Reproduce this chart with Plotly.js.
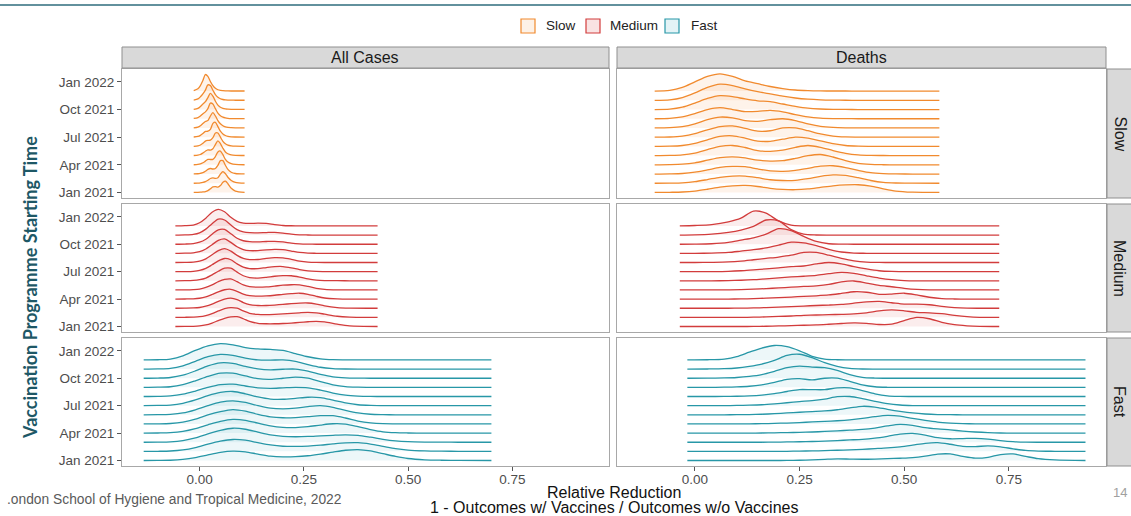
<!DOCTYPE html>
<html><head><meta charset="utf-8">
<script src="https://cdn.plot.ly/plotly-3.0.1.min.js"></script>
<style>html,body{margin:0;padding:0;background:#fff;}#chart{width:1131px;height:516px;}</style>
</head><body><div id="chart"></div>
<script>
// ---------- categories & tick labels ----------
const months = ['Jan 2021','Feb 2021','Mar 2021','Apr 2021','May 2021','Jun 2021','Jul 2021','Aug 2021','Sep 2021','Oct 2021','Nov 2021','Dec 2021'];
const yTickPos = [0, 3, 6, 9, 12];
const yTickText = ['Jan 2021','Apr 2021','Jul 2021','Oct 2021','Jan 2022'];
const xTickVals = [0, 0.25, 0.5, 0.75];
const xTickText = ['0.00','0.25','0.50','0.75'];
const speeds = ['Slow','Medium','Fast'];
const outcomes = ['All Cases','Deaths'];

// ---------- ridge data: x grid per panel, heights (in month-spacing units) per start month Jan..Dec ----------
const slowCasesX = [-0.014,-0.004,0.002,0.008,0.014,0.020,0.026,0.032,0.038,0.044,0.050,0.056,0.062,0.068,0.076,0.086,0.108];
const slowCasesH = [
 [0,0.01,0.03,0.06,0.1,0.2,0.4,0.6,0.64,0.58,0.75,1.1,1.22,0.95,0.45,0.15,0.01],
 [0,0.02,0.05,0.1,0.18,0.32,0.52,0.58,0.52,0.6,1.0,1.27,1.05,0.65,0.3,0.1,0.01],
 [0.01,0.03,0.08,0.15,0.3,0.5,0.6,0.55,0.6,0.95,1.45,1.45,0.95,0.5,0.2,0.06,0.01],
 [0.01,0.04,0.1,0.22,0.4,0.58,0.58,0.6,0.9,1.4,1.5,1.1,0.6,0.3,0.12,0.04,0.01],
 [0.01,0.05,0.12,0.28,0.48,0.62,0.6,0.75,1.2,1.6,1.3,0.8,0.4,0.2,0.08,0.03,0.01],
 [0.01,0.06,0.15,0.33,0.58,0.65,0.68,0.95,1.45,1.45,1.0,0.55,0.28,0.14,0.06,0.02,0.01],
 [0.02,0.08,0.2,0.4,0.62,0.65,0.85,1.5,1.62,1.15,0.65,0.35,0.18,0.09,0.04,0.02,0.01],
 [0.02,0.1,0.25,0.48,0.7,0.8,1.3,1.66,1.3,0.8,0.45,0.24,0.12,0.06,0.03,0.01,0.01],
 [0.03,0.12,0.3,0.55,0.75,1.1,1.7,1.6,1.1,0.6,0.32,0.17,0.09,0.05,0.02,0.01,0.01],
 [0.03,0.13,0.33,0.6,0.85,1.3,1.75,1.45,0.9,0.48,0.25,0.13,0.07,0.04,0.02,0.01,0.01],
 [0.03,0.15,0.38,0.7,1.1,1.68,1.6,1.1,0.62,0.33,0.17,0.09,0.05,0.03,0.02,0.01,0.01],
 [0.05,0.25,0.6,1.15,1.8,1.6,1.05,0.6,0.3,0.15,0.08,0.05,0.03,0.02,0.01,0.01,0.01]
];

const slowDeathsX = [-0.096,-0.06,-0.03,0.0,0.03,0.06,0.09,0.12,0.15,0.18,0.21,0.24,0.27,0.30,0.33,0.36,0.39,0.42,0.45,0.48,0.52,0.584];
const slowDeathsH = [
 [0,0.02,0.05,0.15,0.35,0.58,0.72,0.76,0.65,0.45,0.33,0.3,0.38,0.55,0.72,0.82,0.84,0.7,0.4,0.15,0.03,0],
 [0,0.02,0.05,0.17,0.4,0.65,0.78,0.78,0.6,0.38,0.3,0.32,0.5,0.75,0.9,0.85,0.6,0.3,0.1,0.03,0.01,0],
 [0,0.02,0.06,0.2,0.45,0.72,0.83,0.8,0.55,0.35,0.3,0.4,0.62,0.85,0.9,0.7,0.4,0.15,0.05,0.01,0,0],
 [0,0.02,0.07,0.22,0.5,0.78,0.87,0.75,0.5,0.4,0.45,0.7,1.0,1.12,0.85,0.45,0.15,0.04,0.01,0,0,0],
 [0,0.02,0.08,0.28,0.65,1.0,1.1,0.88,0.55,0.47,0.6,0.9,1.1,0.9,0.55,0.25,0.08,0.02,0.01,0,0,0],
 [0,0.02,0.1,0.33,0.72,1.08,1.15,0.9,0.58,0.55,0.78,1.0,0.9,0.6,0.3,0.1,0.03,0.01,0,0,0,0],
 [0,0.02,0.12,0.38,0.8,1.15,1.22,0.95,0.65,0.7,1.0,1.0,0.7,0.35,0.12,0.03,0.01,0,0,0,0,0],
 [0,0.03,0.15,0.45,0.9,1.18,1.1,0.8,0.72,0.9,1.0,0.8,0.45,0.18,0.06,0.02,0.01,0,0,0,0,0],
 [0,0.04,0.2,0.55,1.0,1.2,1.0,0.78,0.8,0.9,0.75,0.45,0.2,0.07,0.02,0.01,0,0,0,0,0,0],
 [0,0.04,0.25,0.7,1.2,1.5,1.4,1.15,0.95,0.85,0.6,0.35,0.15,0.06,0.02,0.01,0,0,0,0,0,0],
 [0,0.05,0.3,0.8,1.4,1.75,1.6,1.25,0.95,0.7,0.45,0.25,0.12,0.05,0.02,0.01,0,0,0,0,0,0],
 [0,0.08,0.4,1.0,1.6,1.88,1.6,1.1,0.8,0.5,0.28,0.12,0.05,0.02,0.01,0.01,0,0,0,0,0,0]
];

const mediumCasesX = [-0.058,-0.035,-0.015,0.0,0.015,0.03,0.045,0.06,0.075,0.09,0.105,0.12,0.14,0.16,0.18,0.2,0.22,0.24,0.26,0.28,0.30,0.33,0.36,0.427];
const mediumCasesH = [
 [0,0.01,0.02,0.06,0.17,0.38,0.65,0.9,1.05,1.07,0.85,0.55,0.35,0.3,0.3,0.33,0.38,0.45,0.52,0.57,0.5,0.25,0.06,0],
 [0,0.01,0.03,0.07,0.2,0.42,0.7,0.95,1.07,1.0,0.7,0.45,0.32,0.3,0.33,0.38,0.44,0.5,0.54,0.5,0.35,0.12,0.03,0],
 [0,0.01,0.03,0.08,0.22,0.45,0.75,1.0,1.1,0.95,0.62,0.4,0.3,0.3,0.35,0.42,0.5,0.56,0.57,0.45,0.25,0.07,0.01,0],
 [0,0.01,0.03,0.09,0.24,0.5,0.8,1.02,1.07,0.85,0.55,0.38,0.32,0.35,0.42,0.52,0.6,0.64,0.52,0.3,0.12,0.03,0,0],
 [0,0.01,0.04,0.1,0.27,0.55,0.9,1.15,1.2,0.9,0.55,0.36,0.3,0.33,0.42,0.52,0.57,0.55,0.38,0.18,0.07,0.01,0,0],
 [0,0.01,0.04,0.12,0.3,0.65,1.05,1.38,1.38,0.95,0.55,0.35,0.3,0.38,0.5,0.56,0.55,0.4,0.2,0.07,0.02,0.01,0,0],
 [0,0.01,0.04,0.13,0.35,0.75,1.18,1.44,1.3,0.85,0.5,0.34,0.33,0.45,0.55,0.56,0.42,0.22,0.08,0.02,0.01,0,0,0],
 [0,0.02,0.05,0.15,0.4,0.85,1.3,1.53,1.25,0.78,0.45,0.32,0.33,0.45,0.53,0.5,0.35,0.16,0.05,0.01,0,0,0,0],
 [0,0.02,0.06,0.18,0.48,0.95,1.42,1.58,1.2,0.72,0.42,0.3,0.3,0.38,0.43,0.4,0.25,0.1,0.03,0.01,0,0,0,0],
 [0,0.02,0.07,0.22,0.55,1.1,1.58,1.62,1.15,0.65,0.38,0.28,0.26,0.3,0.32,0.25,0.12,0.04,0.01,0,0,0,0,0],
 [0,0.02,0.08,0.25,0.65,1.25,1.75,1.65,1.1,0.6,0.35,0.26,0.25,0.28,0.3,0.22,0.1,0.03,0.01,0,0,0,0,0],
 [0,0.03,0.1,0.35,0.85,1.5,1.82,1.55,0.95,0.5,0.32,0.28,0.3,0.28,0.15,0.05,0.02,0.01,0,0,0,0,0,0]
];

const mediumDeathsX = [-0.036,0.0,0.04,0.08,0.11,0.14,0.17,0.2,0.23,0.26,0.29,0.32,0.35,0.38,0.41,0.44,0.47,0.50,0.53,0.56,0.59,0.62,0.65,0.68,0.727];
const mediumDeathsH = [
 [0,0,0,0,0,0.01,0.03,0.06,0.1,0.14,0.18,0.25,0.33,0.39,0.35,0.22,0.25,0.65,1.0,0.85,0.45,0.2,0.08,0.02,0],
 [0,0,0,0,0,0.02,0.05,0.1,0.15,0.22,0.26,0.3,0.33,0.38,0.5,0.7,0.82,0.72,0.55,0.5,0.4,0.22,0.08,0.01,0],
 [0,0,0,0,0.01,0.03,0.07,0.12,0.18,0.24,0.3,0.35,0.42,0.55,0.7,0.75,0.6,0.45,0.45,0.38,0.2,0.07,0.01,0,0],
 [0,0,0,0,0.02,0.05,0.1,0.16,0.22,0.3,0.36,0.45,0.62,0.8,0.75,0.52,0.55,0.64,0.45,0.2,0.05,0.01,0,0,0],
 [0,0,0,0.01,0.03,0.08,0.15,0.22,0.3,0.38,0.45,0.6,0.88,0.98,0.75,0.5,0.35,0.18,0.06,0.01,0,0,0,0,0],
 [0,0,0,0.02,0.06,0.12,0.22,0.32,0.42,0.5,0.6,0.78,0.93,0.82,0.55,0.3,0.12,0.03,0,0,0,0,0,0,0],
 [0,0,0.01,0.04,0.1,0.2,0.3,0.42,0.55,0.62,0.85,1.0,0.85,0.55,0.3,0.1,0.02,0,0,0,0,0,0,0,0],
 [0,0,0.02,0.06,0.15,0.3,0.45,0.6,0.8,1.1,1.1,0.8,0.45,0.18,0.04,0.01,0,0,0,0,0,0,0,0,0],
 [0,0,0.03,0.1,0.25,0.4,0.6,0.9,1.22,1.15,0.85,0.45,0.15,0.03,0.01,0,0,0,0,0,0,0,0,0,0],
 [0,0.01,0.05,0.2,0.45,0.7,1.1,1.7,1.5,0.85,0.3,0.05,0.01,0,0,0,0,0,0,0,0,0,0,0,0],
 [0,0.02,0.1,0.3,0.55,0.95,1.65,1.55,0.6,0.1,0.01,0,0,0,0,0,0,0,0,0,0,0,0,0,0],
 [0,0.05,0.15,0.45,0.85,1.62,1.4,0.55,0.08,0.01,0,0,0,0,0,0,0,0,0,0,0,0,0,0,0]
];

const fastCasesX = [-0.134,-0.1,-0.07,-0.04,-0.01,0.02,0.05,0.08,0.11,0.14,0.17,0.2,0.23,0.26,0.29,0.32,0.35,0.38,0.41,0.44,0.47,0.5,0.54,0.58,0.62,0.70];
const fastCasesH = [
 [0,0.01,0.03,0.12,0.32,0.62,0.9,1.03,0.95,0.7,0.48,0.4,0.42,0.52,0.7,0.92,1.12,1.2,1.05,0.75,0.45,0.22,0.08,0.03,0.01,0],
 [0,0.01,0.04,0.16,0.42,0.8,1.12,1.3,1.22,0.95,0.7,0.56,0.54,0.58,0.68,0.82,0.93,0.95,0.8,0.55,0.3,0.14,0.05,0.02,0.01,0],
 [0,0.01,0.04,0.18,0.48,0.92,1.3,1.53,1.42,1.1,0.8,0.64,0.6,0.63,0.7,0.76,0.8,0.75,0.55,0.32,0.15,0.06,0.02,0.01,0,0],
 [0,0.01,0.04,0.18,0.48,0.9,1.28,1.5,1.4,1.08,0.78,0.62,0.6,0.7,0.88,1.02,0.98,0.7,0.38,0.14,0.04,0.01,0,0,0,0],
 [0,0.01,0.05,0.2,0.52,0.98,1.35,1.57,1.4,1.05,0.78,0.68,0.7,0.8,0.9,0.9,0.65,0.32,0.12,0.03,0.01,0,0,0,0,0],
 [0,0.01,0.05,0.2,0.55,1.0,1.38,1.53,1.35,1.0,0.72,0.65,0.72,0.9,1.0,0.82,0.48,0.2,0.06,0.02,0,0,0,0,0,0],
 [0,0.02,0.06,0.25,0.62,1.1,1.45,1.55,1.3,0.95,0.72,0.7,0.8,0.92,0.88,0.6,0.3,0.1,0.03,0.01,0,0,0,0,0,0],
 [0,0.02,0.06,0.25,0.6,1.0,1.3,1.35,1.15,0.95,0.9,0.95,1.0,0.95,0.7,0.38,0.15,0.05,0.01,0,0,0,0,0,0,0],
 [0,0.02,0.07,0.3,0.72,1.2,1.55,1.55,1.25,0.95,0.88,1.0,1.13,1.0,0.62,0.28,0.08,0.02,0,0,0,0,0,0,0,0],
 [0,0.02,0.08,0.33,0.8,1.35,1.68,1.62,1.3,1.02,0.92,0.98,1.0,0.78,0.42,0.15,0.04,0.01,0,0,0,0,0,0,0,0],
 [0,0.02,0.08,0.35,0.85,1.35,1.6,1.5,1.2,1.0,0.98,1.0,0.85,0.5,0.2,0.06,0.01,0,0,0,0,0,0,0,0,0],
 [0,0.02,0.1,0.45,1.05,1.55,1.79,1.65,1.35,1.2,1.15,1.05,0.7,0.35,0.12,0.03,0.01,0,0,0,0,0,0,0,0,0]
];

const fastDeathsX = [-0.018,0.03,0.07,0.1,0.13,0.16,0.19,0.22,0.25,0.28,0.31,0.34,0.37,0.40,0.43,0.46,0.49,0.52,0.55,0.58,0.61,0.64,0.67,0.70,0.73,0.76,0.79,0.82,0.86,0.933];
const fastDeathsH = [
 [0,0,0,0,0,0,0,0.01,0.03,0.07,0.13,0.18,0.16,0.14,0.16,0.2,0.25,0.32,0.48,0.7,0.72,0.45,0.26,0.35,0.65,0.72,0.45,0.2,0.06,0],
 [0,0,0,0,0,0,0,0.01,0.03,0.05,0.08,0.12,0.17,0.22,0.3,0.38,0.5,0.68,0.88,0.95,0.78,0.55,0.52,0.6,0.5,0.28,0.1,0.03,0.01,0],
 [0,0,0,0,0,0,0.01,0.03,0.05,0.08,0.12,0.18,0.25,0.32,0.45,0.65,0.88,0.96,0.78,0.5,0.38,0.4,0.43,0.35,0.18,0.06,0.01,0,0,0],
 [0,0,0,0,0,0.01,0.03,0.05,0.08,0.12,0.18,0.25,0.32,0.4,0.55,0.78,0.95,0.85,0.6,0.45,0.35,0.22,0.12,0.05,0.01,0,0,0,0,0],
 [0,0,0,0,0.01,0.03,0.06,0.1,0.15,0.22,0.28,0.35,0.45,0.6,0.8,0.93,0.85,0.6,0.38,0.2,0.1,0.04,0.01,0,0,0,0,0,0,0],
 [0,0,0,0.01,0.03,0.06,0.12,0.2,0.28,0.35,0.42,0.55,0.75,0.93,0.85,0.6,0.38,0.2,0.09,0.03,0.01,0,0,0,0,0,0,0,0,0],
 [0,0,0.01,0.02,0.05,0.1,0.2,0.32,0.45,0.55,0.72,0.98,1.0,0.78,0.48,0.22,0.07,0.01,0,0,0,0,0,0,0,0,0,0,0,0],
 [0,0,0.01,0.03,0.07,0.16,0.32,0.55,0.76,0.75,0.75,0.95,0.95,0.65,0.3,0.08,0.02,0,0,0,0,0,0,0,0,0,0,0,0,0],
 [0,0,0.02,0.05,0.12,0.28,0.55,0.88,0.95,0.82,1.0,1.0,0.65,0.28,0.07,0.01,0,0,0,0,0,0,0,0,0,0,0,0,0,0],
 [0,0.01,0.03,0.08,0.2,0.4,0.75,1.15,1.32,1.22,1.15,0.85,0.4,0.1,0.02,0,0,0,0,0,0,0,0,0,0,0,0,0,0,0],
 [0,0.01,0.04,0.12,0.3,0.55,0.95,1.5,1.62,1.25,0.7,0.3,0.08,0.01,0,0,0,0,0,0,0,0,0,0,0,0,0,0,0,0],
 [0,0.02,0.1,0.36,0.85,1.3,1.58,1.45,1.0,0.4,0.1,0.02,0,0,0,0,0,0,0,0,0,0,0,0,0,0,0,0,0,0]
];

// ---------- styling ----------
const palette = {
  Slow:   {line:'#F18A2E', fill:'rgba(247,160,90,0.13)', box:'#FDF1E6'},
  Medium: {line:'#D23C3C', fill:'rgba(226,110,110,0.12)', box:'#F9E3E3'},
  Fast:   {line:'#2797A7', fill:'rgba(110,190,205,0.12)', box:'#E3F3F6'}
};
const panels = [
  {speed:'Slow',   outcome:'All Cases', x:slowCasesX,   h:slowCasesH},
  {speed:'Slow',   outcome:'Deaths',    x:slowDeathsX,  h:slowDeathsH},
  {speed:'Medium', outcome:'All Cases', x:mediumCasesX, h:mediumCasesH},
  {speed:'Medium', outcome:'Deaths',    x:mediumDeathsX,h:mediumDeathsH},
  {speed:'Fast',   outcome:'All Cases', x:fastCasesX,   h:fastCasesH},
  {speed:'Fast',   outcome:'Deaths',    x:fastDeathsX,  h:fastDeathsH}
];

const W = 1131, H = 516;
const px = v => v / W, py = v => 1 - v / H;
const colDom = [[px(122), px(609)], [px(617), px(1106)]];
const rowPx = [[69,198],[204,332],[338,466]];
const rowDom = rowPx.map(r => [py(r[1]), py(r[0])]);

const traces = [];
const layout = {
  width: W, height: H, margin:{l:0,r:0,t:0,b:0},
  paper_bgcolor:'#fff', plot_bgcolor:'#fff', showlegend:false,
  font:{family:'Liberation Sans, Arial, sans-serif', color:'#222'},
  shapes:[], annotations:[]
};

panels.forEach((p, i) => {
  const r = speeds.indexOf(p.speed), c = outcomes.indexOf(p.outcome);
  const n = i + 1;
  const xa = n === 1 ? 'x' : 'x' + n, ya = n === 1 ? 'y' : 'y' + n;
  const col = palette[p.speed];
  const x0 = p.x[0], x1 = p.x[p.x.length - 1];
  for (let m = months.length - 1; m >= 0; m--) {
    traces.push({x:[x0, x1], y:[m, m], xaxis:xa, yaxis:ya, mode:'lines',
      line:{width:0, color:'rgba(0,0,0,0)'}, hoverinfo:'skip', showlegend:false});
    traces.push({x:p.x, y:p.h[m].map(v => m + v), xaxis:xa, yaxis:ya, mode:'lines',
      name: p.speed + ' ' + months[m],
      line:{color:col.line, width:1.3, shape:'spline', smoothing:0.8},
      fill:'tonexty', fillcolor:col.fill, showlegend:false});
  }
  const axCommon = {showgrid:false, zeroline:false, showline:true, mirror:true,
    linecolor:'#A8A8A8', linewidth:1, ticklen:4, tickwidth:1, tickcolor:'#555',
    tickfont:{size:13.5, color:'#4D4D4D'}};
  layout['xaxis' + (n === 1 ? '' : n)] = Object.assign({}, axCommon, {
    domain: colDom[c], anchor: ya, range:[-0.186, 0.982],
    tickmode:'array', tickvals:xTickVals, ticktext:xTickText, ticklabelstandoff:-3,
    ticks: r === 2 ? 'outside' : '', showticklabels: r === 2});
  layout['yaxis' + (n === 1 ? '' : n)] = Object.assign({}, axCommon, {
    domain: rowDom[r], anchor: xa, range:[-0.6, 13.4],
    tickmode:'array', tickvals:yTickPos, ticktext:yTickText,
    ticks: c === 0 ? 'outside' : '', showticklabels: c === 0});
});

// top decorative rule
layout.shapes.push({type:'line', xref:'paper', yref:'paper', x0:0, x1:1, y0:py(5), y1:py(5),
  line:{color:'#2E6C7C', width:1.5}});

// facet strips
outcomes.forEach((o, c) => {
  layout.shapes.push({type:'rect', xref:'paper', yref:'paper', x0:colDom[c][0], x1:colDom[c][1],
    y0:py(68), y1:py(47), fillcolor:'#D9D9D9', line:{color:'#8F8F8F', width:1}});
  layout.annotations.push({xref:'paper', yref:'paper', x:(colDom[c][0]+colDom[c][1])/2, y:py(57.5),
    text:o, showarrow:false, font:{size:16, color:'#1A1A1A'}, xanchor:'center', yanchor:'middle'});
});
speeds.forEach((s, r) => {
  layout.shapes.push({type:'rect', xref:'paper', yref:'paper', x0:px(1107), x1:px(1140),
    y0:rowDom[r][0], y1:rowDom[r][1], fillcolor:'#D9D9D9', line:{color:'#8F8F8F', width:1}});
  layout.annotations.push({xref:'paper', yref:'paper', x:px(1120), y:(rowDom[r][0]+rowDom[r][1])/2,
    text:s, textangle:90, showarrow:false, font:{size:16, color:'#1A1A1A'}, xanchor:'center', yanchor:'middle'});
});

// legend (manual keys)
const legendKeys = [{s:'Slow', box:521, text:544}, {s:'Medium', box:586, text:608}, {s:'Fast', box:665, text:689}];
legendKeys.forEach(k => {
  layout.shapes.push({type:'rect', xref:'paper', yref:'paper', x0:px(k.box), x1:px(k.box+14),
    y0:py(33), y1:py(19), fillcolor:palette[k.s].box, line:{color:palette[k.s].line, width:1.2}});
  layout.annotations.push({xref:'paper', yref:'paper', x:px(k.text), y:py(26), text:k.s,
    showarrow:false, xanchor:'left', yanchor:'middle', font:{size:13.5, color:'#222'}});
});

// axis titles & footer
layout.annotations.push({xref:'paper', yref:'paper', x:px(30), y:py(288),
  text:'<b>Vaccination Programme Starting Time</b>', textangle:-90, showarrow:false,
  font:{family:'Lato, Open Sans, sans-serif', size:18, color:'#1E5866'}, xanchor:'center', yanchor:'middle'});
layout.annotations.push({xref:'paper', yref:'paper', x:px(614), y:py(492),
  text:'Relative Reduction', showarrow:false,
  font:{size:16, color:'#111'}, xanchor:'center', yanchor:'middle'});
layout.annotations.push({xref:'paper', yref:'paper', x:px(614), y:py(507.5),
  text:'1 - Outcomes w/ Vaccines / Outcomes w/o Vaccines', showarrow:false,
  font:{size:16, color:'#111'}, xanchor:'center', yanchor:'middle'});
layout.annotations.push({xref:'paper', yref:'paper', x:px(5), y:py(499),
  text:'.ondon School of Hygiene and Tropical Medicine, 2022', showarrow:false,
  font:{size:13.8, color:'#5A5A5A'}, xanchor:'left', yanchor:'middle'});
layout.annotations.push({xref:'paper', yref:'paper', x:px(1120), y:py(492), text:'14', showarrow:false,
  font:{size:13, color:'#A0A0A0'}, xanchor:'center', yanchor:'middle'});

Plotly.newPlot('chart', traces, layout, {displayModeBar:false, staticPlot:true});
</script>
</body></html>
